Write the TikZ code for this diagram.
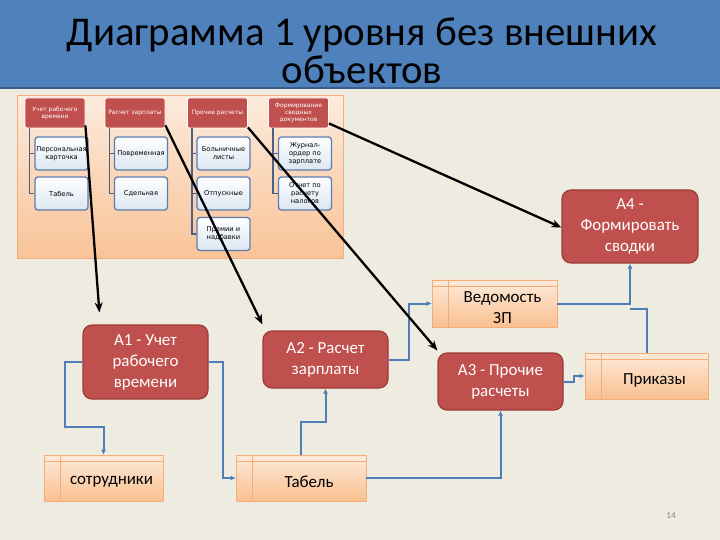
\documentclass[tikz,border=0pt]{standalone}
\usepackage{fontspec}
\setmainfont{Carlito}
\newfontfamily\smallfont{DejaVu Sans}
\usetikzlibrary{arrows.meta,calc}
\definecolor{bgtan}{HTML}{EEECE1}
\definecolor{titleblue}{HTML}{4F81BD}
\definecolor{titledark}{HTML}{385D8A}
\definecolor{redbox}{HTML}{C0504D}
\definecolor{rededge}{HTML}{9E3B38}
\definecolor{storetop}{HTML}{FDEADA}
\definecolor{storebot}{HTML}{FAC090}
\definecolor{storeedge}{HTML}{F2AE7A}
\definecolor{flowblue}{HTML}{4F7DB5}
\definecolor{hierline}{HTML}{4A6287}
\definecolor{childedge}{HTML}{5B7DAF}
\definecolor{childbot}{HTML}{DCE6F2}
\definecolor{paneltop}{HTML}{FCEBDD}
\definecolor{panelbot}{HTML}{F9C397}
\begin{document}
\begin{tikzpicture}[x=1bp,y=-1bp,
  par/.style={fill=redbox, draw=white, line width=0.8bp, rounded corners=2bp,
    minimum width=60bp, minimum height=30bp, inner sep=1bp, text=white,
    font=\smallfont\fontsize{6}{7}\selectfont, align=center},
  chi/.style={top color=white, bottom color=childbot, draw=childedge, line width=1.3bp,
    rounded corners=3bp, minimum width=53bp, minimum height=33bp, inner sep=0.5bp,
    text=black, font=\smallfont\fontsize{6.7}{8}\selectfont, align=center},
  hier/.style={draw=hierline, line width=1.3bp},
  big/.style={draw=black, line width=2.3bp, -{Stealth[length=10bp,width=8bp]}},
  abox/.style={fill=redbox, draw=rededge, line width=1.2bp, rounded corners=9bp,
    text=white, font=\fontsize{17}{21}\selectfont, align=center},
  store/.style={top color=storetop, bottom color=storebot, draw=storeedge, line width=0.7bp,
    minimum height=46bp},
  storeline/.style={draw=storeedge, line width=0.7bp},
  storetext/.style={text=black, font=\fontsize{17}{21}\selectfont, align=center},
  flow/.style={draw=flowblue, line width=2bp, -{Latex[length=5bp,width=5bp]}},
  flowplain/.style={draw=flowblue, line width=2bp}
]
\fill[bgtan] (0,0) rectangle (720,540);
\useasboundingbox (0,0) rectangle (720,540);
% title band
\fill[titleblue] (0,0) rectangle (720,88);
\draw[titledark, line width=1.5bp] (0,88) -- (720,88);
\node[text=black, font=\fontsize{41}{38}\selectfont, align=center] (title) at (362,51)
  {Диаграмма 1 уровня без внешних\\объектов};
% hierarchy panel
\shade[top color=paneltop, bottom color=panelbot, draw=storeedge, line width=0.8bp]
  (17,95) rectangle (343,258);
\node[par] (P1) at (55,113) {Учет рабочего\\времени};
\node[par] (P2) at (135,113) {Расчет зарплаты};
\node[par] (P3) at (217.5,113) {Прочие расчеты};
\node[par] (P4) at (298.5,113) {Формирование\\сводных\\документов};
\node[chi] (C11) at (61.5,153.5) {Персональная\\карточка};
\node[chi] (C12) at (61.5,193.5) {Табель};
\node[chi] (C21) at (141,153.5) {Повременная};
\node[chi] (C22) at (141,193.5) {Сдельная};
\node[chi] (C31) at (223.5,153.5) {Больничные\\листы};
\node[chi] (C32) at (223.5,193.5) {Отпускные};
\node[chi] (C33) at (223.5,234) {Премии и\\надбавки};
\node[chi] (C41) at (305,153.5) {Журнал-\\ордер по\\зарплате};
\node[chi] (C42) at (305,193.5) {Отчет по\\расчету\\налогов};
\draw[hier] ($(P1.south west)+(5,0)$) |- (C11.west);
\draw[hier] ($(P1.south west)+(5,0)$) |- (C12.west);
\draw[hier] ($(P2.south west)+(5,0)$) |- (C21.west);
\draw[hier] ($(P2.south west)+(5,0)$) |- (C22.west);
\draw[hier] ($(P3.south west)+(5,0)$) |- (C31.west);
\draw[hier] ($(P3.south west)+(5,0)$) |- (C32.west);
\draw[hier] ($(P3.south west)+(5,0)$) |- (C33.west);
\draw[hier] ($(P4.south west)+(5,0)$) |- (C41.west);
\draw[hier] ($(P4.south west)+(5,0)$) |- (C42.west);
% process boxes
\node[abox, minimum width=125bp, minimum height=74bp] (A1) at (145.5,362) {\raisebox{-2bp}{\parbox{110bp}{\centering A1 - Учет\\рабочего\\времени}}};
\node[abox, minimum width=125bp, minimum height=57bp] (A2) at (325.5,359.5) {A2 - Расчет\\зарплаты};
\node[abox, minimum width=125bp, minimum height=57bp] (A3) at (500.5,381.5) {A3 - Прочие\\расчеты};
\node[abox, minimum width=136bp, minimum height=73bp] (A4) at (630,226.5) {\raisebox{-2bp}{\parbox{125bp}{\centering A4 -\\Формировать\\сводки}}};
% data stores
\node[store, minimum width=119bp] (S1) at (103.5,478) {};
\node[store, minimum width=130bp] (S2) at (301,478) {};
\node[store, minimum width=125bp, minimum height=47bp] (S3) at (494.5,303.5) {};
\node[store, minimum width=123bp] (S4) at (646.5,376) {};
\foreach \s in {S1,S2,S3,S4}{
  \draw[storeline] ([xshift=17bp]\s.north west) -- ([xshift=17bp]\s.south west);
  \draw[storeline] ([yshift=-7bp]\s.north west) -- ([yshift=-7bp]\s.north east);
}
\node[storetext] (S1t) at ([xshift=8bp,yshift=-4bp]S1.center) {сотрудники};
\node[storetext] (S2t) at ([xshift=8bp,yshift=-4bp]S2.center) {Табель};
\node[storetext] (S3t) at ([xshift=8bp,yshift=-4bp]S3.center) {Ведомость\\ЗП};
\node[storetext] (S4t) at ([xshift=8bp,yshift=-4bp]S4.center) {Приказы};
% blue flows
\draw[flow] (A1.west) -- ++(-17,0) -- ++(0,65) -| (S1.north);
\draw[flow] (A1.east) -- ++(14,0) |- (S2.west);
\draw[flow] (S2.north) -- ++(0,-33) -| (A2.south);
\draw[flow] (S2.east) -| (A3.south);
\draw[flow] (A2.east) -- ++(20,0) |- (S3.west);
\draw[flow] (A3.east) -- ++(10,0) |- (S4.west);
\draw[flow] (S3.east) -| (A4.south);
\draw[flowplain] (S4.north) |- ($(A4.south)+(0,45)$);
% black arrows
\draw[big] ($(P1.south east)+(0,-3)$) -- ($(A1.north west)+(17,-12)$);
\draw[big] ($(P2.south east)+(0,-3)$) -- ($(A2.north west)+(0,-6)$);
\draw[big] ($(P3.south east)+(0,-1)$) -- ($(A3.north west)+(0,-2)$);
\draw[big] ($(P4.south east)+(0,-5)$) -- ($(A4.west)+(0,1)$);
% page number
\node[text=black!50, font=\fontsize{9}{10}\selectfont] (pg) at (671,516) {14};
\end{tikzpicture}
\end{document}
